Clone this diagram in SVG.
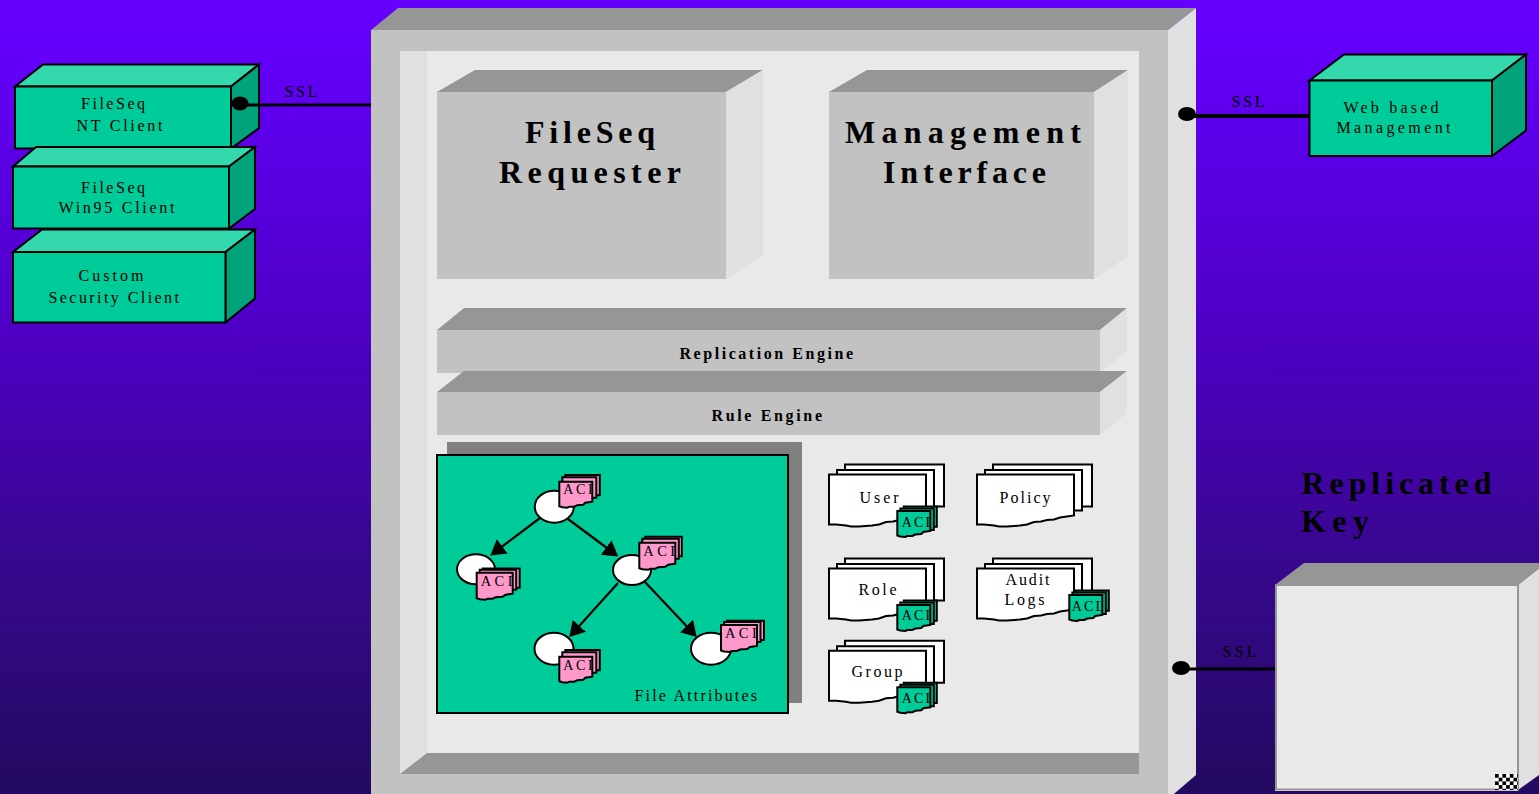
<svg xmlns="http://www.w3.org/2000/svg" width="1539" height="794" viewBox="0 0 1539 794">
<style>
text{font-family:"Liberation Serif","Times New Roman",serif;fill:#000}
.t{font-size:16px}
.s{font-size:16px}
.b{font-size:32px;font-weight:bold}
.m{font-size:16px;font-weight:bold}
.a{font-size:14px;letter-spacing:2.6px;clip-path:url(#aclclip)}
.aw{font-size:14.5px;letter-spacing:3.4px;clip-path:url(#aclclipw)}
.ag{font-size:14px;letter-spacing:2.1px;clip-path:url(#aclclip)}
.front{fill:#00cc99;stroke:#000;stroke-width:2}
.top{fill:#33d9ad;stroke:#000;stroke-width:2}
.side{fill:#00a37a;stroke:#000;stroke-width:2}
.gf{fill:#c2c2c2}
.gt{fill:#969696}
.gs{fill:#e0e0e0}
.sheet{fill:#fff;stroke:#000;stroke-width:2}
.acl{stroke:#000;stroke-width:2}
.pink{fill:#ff99cc}
.green{fill:#00cc99}
.oval{fill:#fff;stroke:#000;stroke-width:2}
.wire{stroke:#000;fill:none}
.ball{fill:#000}
.arrow{stroke:#000;stroke-width:2.2;fill:none;marker-end:url(#head)}
</style>
<defs>
<linearGradient id="bg" x1="0" y1="0" x2="0" y2="1">
<stop offset="0" stop-color="#6600ff"/>
<stop offset="0.07" stop-color="#6200f8"/>
<stop offset="0.45" stop-color="#4c00bf"/>
<stop offset="0.72" stop-color="#36088c"/>
<stop offset="1" stop-color="#220a60"/>
</linearGradient>
<marker id="head" markerUnits="userSpaceOnUse" markerWidth="20" markerHeight="20" viewBox="0 -10 20 20" refX="11" refY="0" orient="auto">
<path d="M0,-9 L15,0 L0,9 Z" fill="#000"/>
</marker>
<pattern id="check" width="7.4" height="7.4" patternUnits="userSpaceOnUse" x="1495" y="774">
<rect width="7.4" height="7.4" fill="#fff"/>
<rect width="3.7" height="3.7" fill="#000"/>
<rect x="3.7" y="3.7" width="3.7" height="3.7" fill="#000"/>
</pattern>
<clipPath id="aclclip"><rect x="0" y="-2" width="33" height="26"/></clipPath>
<clipPath id="aclclipw"><rect x="0" y="-2" width="36" height="26"/></clipPath>
<g id="doc">
<path class="sheet" d="M16,-10 H115 V32 H16 Z"/>
<path class="sheet" d="M8,-4.5 H105 V36 H8 Z"/>
<path class="sheet" d="M0,0 H97 V41 L90,42 L83,43 L77,45 L70,45.5 L64,47 L57,47.5 L50,50 L43,51 L30,52 L22,52 L17,51 L7,50 L0,50 Z"/>
</g>
<g id="acl-front">
<path d="M0,0 H33 V20 L26,21 L24,23 L18,23.5 L15,25 L10,25 L8,26 L3,25.5 L0,24.5 Z"/>
</g>
<g id="acl-pink">
<path d="M6,-6.7 H40.5 V13.5 H6 Z"/>
<path d="M3,-4.4 H37 V16 H3 Z"/>
<use href="#acl-front"/>
</g>
<g id="acl-wide">
<path d="M6,-6 H42.5 V13.5 H6 Z"/>
<path d="M3,-4 H39.5 V16 H3 Z"/>
<path d="M0,0 H36 V21 L29,22 L26,24 L19,24.5 L16,26 L11,26 L9,27 L3,26.5 L0,25.5 Z"/>
</g>
<g id="acl-wide-flat">
<path d="M6,-4.2 H43 V15 H6 Z"/>
<path d="M3,-3 H39.5 V17 H3 Z"/>
<path d="M0,0 H36 V21 L29,22 L26,24 L19,24.5 L16,26 L11,26 L9,27 L3,26.5 L0,25.5 Z"/>
</g>
<g id="acl-green">
<path d="M6.5,-4.5 H39.5 V15.7 H6.5 Z"/>
<path d="M3,-2.5 H36.5 V19 H3 Z"/>
<use href="#acl-front"/>
</g>
</defs>
<rect id="background" width="1539" height="794" fill="url(#bg)"/>

<g id="main-box">
<path class="gt" d="M371,30 L398,8 H1196 L1168,30 Z"/>
<path class="gs" d="M1168,30 L1196,8 V775 L1168,799 Z"/>
<rect class="gf" x="371" y="30" width="797" height="770"/>
<rect x="400" y="51" width="739" height="723" fill="#e9e9e9"/>
<path class="gs" d="M400,51 H427 V753 L400,774 Z"/>
<path class="gt" d="M427,753 H1139 V774 H400 Z"/>
</g>

<g id="fileseq-requester">
<path class="gt" d="M437,92 L475,70 H763 L726,92 Z"/>
<path class="gs" d="M726,92 L763,70 V256 L726,279 Z"/>
<rect class="gf" x="437" y="92" width="289" height="187"/>
<text class="b" x="525" y="143" textLength="130" lengthAdjust="spacing">FileSeq</text>
<text class="b" x="499" y="183" textLength="182" lengthAdjust="spacing">Requester</text>
</g>
<g id="management-interface">
<path class="gt" d="M829,92 L867,70 H1128 L1094,92 Z"/>
<path class="gs" d="M1094,92 L1128,70 V256 L1094,279 Z"/>
<rect class="gf" x="829" y="92" width="265" height="187"/>
<text class="b" x="845" y="143" textLength="236" lengthAdjust="spacing">Management</text>
<text class="b" x="883" y="183" textLength="163" lengthAdjust="spacing">Interface</text>
</g>
<g id="replication-engine">
<path class="gt" d="M437,330 L464,308 H1127 L1100,330 Z"/>
<path class="gs" d="M1100,330 L1127,308 V350 L1100,373 Z"/>
<rect class="gf" x="437" y="330" width="663" height="43"/>
<text class="m" x="679.5" y="359" textLength="173.5" lengthAdjust="spacing">Replication Engine</text>
</g>
<g id="rule-engine">
<path class="gt" d="M437,392 L464,371 H1127 L1100,392 Z"/>
<path class="gs" d="M1100,392 L1127,371 V413 L1100,435 Z"/>
<rect class="gf" x="437" y="392" width="663" height="43"/>
<text class="m" x="711.5" y="421" textLength="110.5" lengthAdjust="spacing">Rule Engine</text>
</g>

<g id="file-attributes">
<rect x="447" y="442" width="355" height="261" fill="#808080"/>
<rect x="437" y="455" width="351" height="258" fill="#00cc99" stroke="#000" stroke-width="2"/>
<text class="t" x="634.5" y="701" textLength="122.5" lengthAdjust="spacing">File Attributes</text>
</g>

<g id="tree-root">
<ellipse class="oval" cx="554.3" cy="506.7" rx="19.5" ry="16"/>
<g transform="translate(559.3,481.7)">
<use href="#acl-pink" class="acl pink"/>
<text class="a" x="4" y="12">ACL</text>
</g>
</g>
<g id="tree-left">
<ellipse class="oval" cx="476" cy="569.3" rx="19" ry="15"/>
<g transform="translate(476.7,572.7)">
<use href="#acl-wide-flat" class="acl pink"/>
<text class="aw" x="4" y="13">ACL</text>
</g>
</g>
<g id="tree-mid">
<ellipse class="oval" cx="632" cy="570" rx="19" ry="15"/>
<g transform="translate(639.3,542.7)">
<use href="#acl-wide" class="acl pink"/>
<text class="aw" x="4" y="13">ACL</text>
</g>
</g>
<g id="tree-bottom-left">
<ellipse class="oval" cx="554" cy="648.7" rx="19.5" ry="16"/>
<g transform="translate(559.3,656.7)">
<use href="#acl-pink" class="acl pink"/>
<text class="a" x="4" y="13">ACL</text>
</g>
</g>
<g id="tree-bottom-right">
<ellipse class="oval" cx="711" cy="648.7" rx="20" ry="16"/>
<g transform="translate(721,625)">
<use href="#acl-wide-flat" class="acl pink"/>
<text class="aw" x="4" y="13">ACL</text>
</g>
</g>

<g id="user">
<use href="#doc" x="829" y="474.5"/>
<text class="t" x="859.5" y="503" textLength="39" lengthAdjust="spacing">User</text>
<g transform="translate(897.3,511)">
<use href="#acl-green" class="acl green"/>
<text class="ag" x="4.5" y="16">ACL</text>
</g>
</g>
<g id="policy">
<use href="#doc" x="977" y="474.5"/>
<text class="t" x="999.5" y="503" textLength="51" lengthAdjust="spacing">Policy</text>
</g>
<g id="role">
<use href="#doc" x="829" y="568.5"/>
<text class="t" x="858.5" y="595" textLength="38" lengthAdjust="spacing">Role</text>
<g transform="translate(897.3,605)">
<use href="#acl-green" class="acl green"/>
<text class="ag" x="4.5" y="15">ACL</text>
</g>
</g>
<g id="audit-logs">
<use href="#doc" x="977" y="568.5"/>
<text class="t" x="1005.5" y="585" textLength="44" lengthAdjust="spacing">Audit</text>
<text class="t" x="1004.5" y="605" textLength="40" lengthAdjust="spacing">Logs</text>
<g transform="translate(1069.3,595)">
<use href="#acl-green" class="acl green"/>
<text class="ag" x="2.5" y="16">ACL</text>
</g>
</g>
<g id="group">
<use href="#doc" x="829" y="650.8"/>
<text class="t" x="851.5" y="677" textLength="51" lengthAdjust="spacing">Group</text>
<g transform="translate(897.3,687.3)">
<use href="#acl-green" class="acl green"/>
<text class="ag" x="4.5" y="16">ACL</text>
</g>
</g>

<g id="nt-client">
<path class="top" d="M15,86.5 L43,64.5 H259 L231,86.5 Z"/>
<path class="side" d="M231,86.5 L259,64.5 V128 L231,148.5 Z"/>
<rect class="front" x="15" y="86.5" width="216" height="62"/>
<text class="s" x="81" y="109" textLength="64" lengthAdjust="spacing">FileSeq</text>
<text class="s" x="76.5" y="131" textLength="86" lengthAdjust="spacing">NT Client</text>
</g>
<g id="win95-client">
<path class="top" d="M13,166.5 L36,147 H255 L229,166.5 Z"/>
<path class="side" d="M229,166.5 L255,147 V209 L229,228.5 Z"/>
<rect class="front" x="13" y="166.5" width="216" height="62"/>
<text class="s" x="81" y="193" textLength="64" lengthAdjust="spacing">FileSeq</text>
<text class="s" x="58.5" y="213" textLength="116" lengthAdjust="spacing">Win95 Client</text>
</g>
<g id="custom-client">
<path class="top" d="M13,252 L42,229.5 H255 L225.5,252 Z"/>
<path class="side" d="M225.5,252 L255,229.5 V298.5 L225.5,322.5 Z"/>
<rect class="front" x="13" y="252" width="212.5" height="70.5"/>
<text class="s" x="78.5" y="281" textLength="65" lengthAdjust="spacing">Custom</text>
<text class="s" x="48.5" y="303" textLength="130.5" lengthAdjust="spacing">Security Client</text>
</g>
<g id="web-management">
<path class="top" d="M1309.5,80.5 L1344,54.5 H1526 L1492,80.5 Z"/>
<path class="side" d="M1492,80.5 L1526,54.5 V130.5 L1492,156 Z"/>
<rect class="front" x="1309.5" y="80.5" width="182.5" height="75.5"/>
<text class="s" x="1343.5" y="113" textLength="95" lengthAdjust="spacing">Web based</text>
<text class="s" x="1336.5" y="133" textLength="114" lengthAdjust="spacing">Management</text>
</g>
<g id="replicated-key">
<path class="gt" d="M1275,585 L1304,563 H1546 L1518,585 Z"/>
<path class="gs" d="M1518,585 L1546,563 V770 L1518,790 Z"/>
<rect x="1275" y="585" width="243" height="206" fill="#fff"/>
<rect x="1276" y="585" width="242" height="204.5" fill="#e9e9e9" stroke="#969696" stroke-width="2"/>
<rect x="1495" y="774" width="23" height="16" fill="url(#check)"/>
<text class="b" x="1301.5" y="494" textLength="190" lengthAdjust="spacing">Replicated</text>
<text class="b" x="1301" y="532" textLength="68" lengthAdjust="spacing">Key</text>
</g>

<g id="connectors">
<path class="wire" stroke-width="3" d="M240,105 H371"/>
<ellipse class="ball" cx="240" cy="103.5" rx="8.5" ry="7"/>
<text class="s" x="284.5" y="97" textLength="33" lengthAdjust="spacing">SSL</text>
<path class="wire" stroke-width="4" d="M1187,116 H1309"/>
<ellipse class="ball" cx="1187" cy="114" rx="9" ry="7"/>
<text class="s" x="1231.5" y="107" textLength="33" lengthAdjust="spacing">SSL</text>
<path class="wire" stroke-width="3" d="M1181,669 H1275"/>
<ellipse class="ball" cx="1181" cy="668" rx="9" ry="7"/>
<text class="s" x="1222.5" y="657" textLength="34" lengthAdjust="spacing">SSL</text>
<path class="arrow" d="M540,518 L493.5,553"/>
<path class="arrow" d="M568,519 L615,554"/>
<path class="arrow" d="M618,583 L572,634"/>
<path class="arrow" d="M645,582 L694,634"/>
</g>
</svg>
